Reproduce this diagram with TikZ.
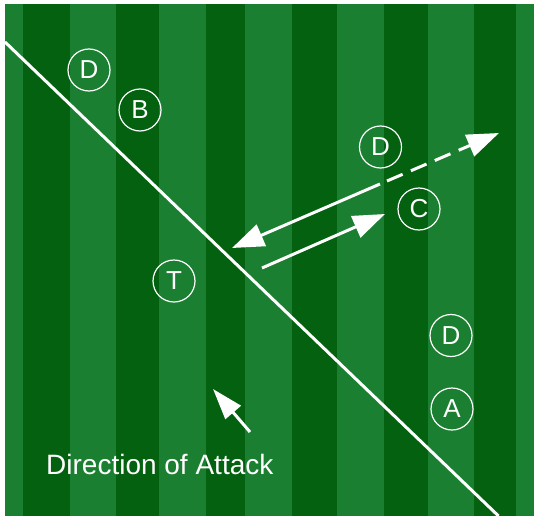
\documentclass[tikz,border=0pt]{standalone}
\usepackage{fontspec}
\setmainfont{Liberation Sans}
\usepackage{xcolor}
\usepackage{tikz}
\usetikzlibrary{positioning,calc,arrows.meta}
\definecolor{pitchdark}{HTML}{03610F}
\definecolor{pitchlight}{HTML}{1A7F30}

\begin{document}
\begin{tikzpicture}[x=1pt,y=-1pt,
    player/.style={circle,draw=white,line width=1.2pt,minimum size=42pt,
                   inner sep=0pt,text=white,font=\fontsize{26}{26}\selectfont},
    pass/.style={draw=white,line width=3pt,-{Triangle[length=32pt,width=23pt]}},
    runline/.style={draw=white,line width=3pt},
    caption/.style={text=white,font=\fontsize{28}{28}\selectfont,
                    inner sep=0pt,anchor=base west},
  ]
    \useasboundingbox (0,0) rectangle (534,516);
    \fill[white] (0,0) rectangle (534,516);

    % pitch, light base with dark stripes
    \fill[pitchlight] (5,4) rectangle (534,516);
    \foreach \xa/\xb in {23/70,116/159,206/245,292/337,384/428,474/516}
      \fill[pitchdark] (\xa,4) rectangle (\xb,516);

    % the diagonal line across the pitch
    \coordinate (lineA) at (5,42);
    \coordinate (lineB) at (498.5,516);
    \draw[runline] (lineA) -- (lineB);

    % players
    \node[player] (d1) at (89,70)    {D};
    \node[player] (b)  at (140,110)  {B};
    \node[player] (d2) at (380.5,147){D};
    \node[player] (c)  at (419,209)  {C};
    \node[player] (t)  at (174,281)  {T};
    \node[player] (d3) at (451,335.5){D};
    \node[player] (a)  at (452,409)  {A};

    % passes
    \coordinate (backfrom) at (380,184);
    \coordinate (backto)   at (232,248);
    \coordinate (dashfrom) at (387,181);
    \coordinate (dashto)   at (499,133);
    \coordinate (fwdfrom)  at (262,268);
    \coordinate (fwdto)    at (385,214);
    \draw[pass] (backfrom) -- (backto);
    \draw[pass,dash pattern=on 17pt off 9pt] (dashfrom) -- (dashto);
    \draw[pass] (fwdfrom) -- (fwdto);

    % direction of attack
    \coordinate (attfrom) at (250,432);
    \coordinate (attto)   at (213,389);
    \draw[white,line width=3pt,-{Triangle[length=31pt,width=20pt]}] (attfrom) -- (attto);
    \node[caption] (attack) at (46,474) {Direction of Attack};
  \end{tikzpicture}
\end{document}
